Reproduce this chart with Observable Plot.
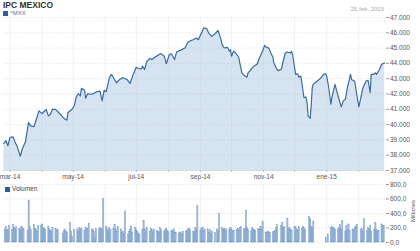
<!DOCTYPE html>
<html><head><meta charset="utf-8">
<script src="https://cdn.jsdelivr.net/npm/d3@7"></script>
<script src="https://cdn.jsdelivr.net/npm/@observablehq/plot@0.6"></script>
<style>
body{margin:0;background:#fff;}
#wrap{position:relative;width:420px;height:251px;overflow:hidden;font-family:"Liberation Sans",Arial,sans-serif;}
.abs{position:absolute;white-space:nowrap;}
#main,#vol{position:absolute;left:0;}
#main{top:0;} #vol{top:178px;}
</style></head>
<body><div id="wrap">
<div id="main"></div><div id="vol"></div>
<div class="abs" style="left:3px;top:0px;font-size:8.5px;font-weight:bold;color:#333;">IPC MEXICO</div>
<div class="abs" style="left:3px;top:10px;font-size:6px;color:#4a6fa0;"><span style="display:inline-block;width:5px;height:5px;background:#2d5f9a;margin-right:2px;vertical-align:-0.5px"></span>^MXX</div>
<div class="abs" style="right:36px;top:6px;font-size:6px;color:#aaa;">25 feb. 2015</div>
<div class="abs" style="left:5px;top:185px;font-size:6.5px;color:#444;"><span style="display:inline-block;width:5px;height:5px;background:#2d5f9a;margin-right:2px;vertical-align:-0.5px"></span>Volumen</div>
<div class="abs" style="left:413px;top:211px;font-size:6px;color:#555;transform:translate(-50%,-50%) rotate(-90deg);">Millones</div>
</div>
<script>
const lineDates = ["2014-02-23","2014-02-25","2014-02-27","2014-03-01","2014-03-04","2014-03-06","2014-03-08","2014-03-11","2014-03-13","2014-03-16","2014-03-19","2014-03-21","2014-03-24","2014-03-26","2014-03-29","2014-04-01","2014-04-02","2014-04-05","2014-04-07","2014-04-09","2014-04-11","2014-04-14","2014-04-17","2014-04-20","2014-04-23","2014-04-25","2014-04-26","2014-04-30","2014-05-02","2014-05-04","2014-05-06","2014-05-08","2014-05-09","2014-05-12","2014-05-13","2014-05-15","2014-05-19","2014-05-24","2014-05-27","2014-05-29","2014-05-31","2014-06-02","2014-06-05","2014-06-07","2014-06-10","2014-06-12","2014-06-15","2014-06-18","2014-06-22","2014-06-25","2014-06-28","2014-07-01","2014-07-03","2014-07-06","2014-07-07","2014-07-09","2014-07-11","2014-07-14","2014-07-16","2014-07-19","2014-07-22","2014-07-25","2014-07-28","2014-07-30","2014-08-02","2014-08-04","2014-08-07","2014-08-09","2014-08-12","2014-08-14","2014-08-17","2014-08-20","2014-08-23","2014-08-25","2014-08-28","2014-08-30","2014-09-02","2014-09-04","2014-09-07","2014-09-09","2014-09-12","2014-09-15","2014-09-18","2014-09-20","2014-09-22","2014-09-24","2014-09-27","2014-09-29","2014-09-30","2014-10-01","2014-10-03","2014-10-05","2014-10-08","2014-10-09","2014-10-11","2014-10-13","2014-10-16","2014-10-17","2014-10-19","2014-10-21","2014-10-23","2014-10-26","2014-10-28","2014-10-31","2014-11-02","2014-11-04","2014-11-06","2014-11-08","2014-11-10","2014-11-11","2014-11-13","2014-11-15","2014-11-18","2014-11-20","2014-11-22","2014-11-24","2014-11-27","2014-11-28","2014-11-29","2014-12-01","2014-12-02","2014-12-04","2014-12-05","2014-12-07","2014-12-08","2014-12-10","2014-12-12","2014-12-13","2014-12-14","2014-12-16","2014-12-17","2014-12-18","2014-12-19","2014-12-22","2014-12-26","2014-12-29","2014-12-31","2015-01-01","2015-01-03","2015-01-05","2015-01-06","2015-01-09","2015-01-12","2015-01-15","2015-01-17","2015-01-19","2015-01-21","2015-01-24","2015-01-25","2015-01-28","2015-01-30","2015-02-01","2015-02-03","2015-02-05","2015-02-08","2015-02-10","2015-02-12","2015-02-13","2015-02-15","2015-02-17","2015-02-18","2015-02-21","2015-02-23","2015-02-26"];
const lineValues = [38770,38950,38620,39160,39200,38840,38560,37930,38430,38900,40140,39920,39860,40250,40900,40720,40790,41000,40570,40680,41000,41000,40790,40570,40360,40290,40790,41000,41220,41800,42020,41870,42370,42240,41720,42020,41980,42150,42190,41550,42240,42150,43060,43280,42950,42730,42950,43060,42950,42690,43280,43750,43670,43640,43820,43600,44100,44320,44250,44400,44530,44640,44470,43980,44580,44620,44250,44750,44840,44900,45010,45400,45500,45550,45660,45550,45980,46320,46280,45980,45770,45930,46150,45770,45230,45010,45050,44790,44900,44470,44790,44680,44400,44030,43380,43230,43100,43380,43530,43710,43820,43980,44360,44790,45180,45050,45010,44680,44400,44030,43710,43530,43600,44140,44680,44750,44680,44790,44580,43710,43280,43320,43100,43170,42730,41760,41800,41430,40570,40400,41220,42410,42630,42800,43020,43280,43340,43170,42410,41330,41760,42630,41870,41160,41550,41650,42410,43280,42950,42840,41980,41160,41760,42410,42840,42890,42080,43280,43280,43380,43280,43600,43940,44030];

// Volume (millions), one value per weekday from Mon 2014-02-24 to Wed 2015-02-25; null = no bar
const volumeValues = [
180,210,160,175,230, 170,240,200,190,210, 190,170,220,200,180, null,160,580,210,170,
240,190,180,150,230, 230,250,190,200,170, 220,180,160,150,200, 190,160,170,null,null,
120,160,170,150,140, 270,150,80,null,170, 180,150,200,170,190, 160,200,180,190,260,
170,180,150,60,190, 180,200,190,170,600, 220,180,150,200,170, 190,240,170,150,210,
180,130,150,120,430, 110,150,180,220,140, 200,170,150,120,110, 170,300,180,140,200,
150,190,170,140,180, 160,150,140,200,170, 150,170,190,160,140, 160,150,180,140,130,
120,140,130,110,150, 150,160,180,190,170, 150,140,200,170,500, 160,190,200,150,170,
180,130,170,120,150, 130,null,180,150,390, 200,170,190,160,180, 180,200,170,150,160,
170,190,160,200,210, 180,190,440,200,170, 150,200,180,170,160, 190,170,210,180,280,
140,130,150,140,130, 140,150,160,200,240, null,230,270,200,210, 330,180,200,170,160,
220,200,180,160,210, 190,220,200,170,null, 350,320,210,200,290, null,null,null,null,null,
null,null,60,null,110, 200,210,190,200,180, 180,200,240,170,300, 150,230,170,250,160,
180,160,200,220,240, null,170,190,150,320, 160,200,180,230,150, 170,270,180,150,160,
250,220,230];

const xTickDates = ["2014-03-01","2014-05-01","2014-07-01","2014-09-01","2014-11-01","2015-01-01"];
const xTickLabels = ["mar-14","may-14","jul-14","sep-14","nov-14","ene-15"];
const yTicks = [37000,38000,39000,40000,41000,42000,43000,44000,45000,46000,47000];
const yTickLabels = ["37.000","38.000","39.000","40.000","41.000","42.000","43.000","44.000","45.000","46.000","47.000"];
const volTicks = [0,200,400,600,800];
const volTickLabels = ["0,0","200,0","400,0","600,0","800,0"];

const P = d => new Date(d + "T00:00:00Z");
const line = lineDates.map((d, i) => ({date: P(d), value: lineValues[i]}));
const weekdays = d3.utcDays(P("2014-02-24"), P("2015-02-26")).filter(d => d.getUTCDay() > 0 && d.getUTCDay() < 6);
const vol = weekdays.map((d, i) => ({date: d, vol: volumeValues[i]})).filter(d => d.vol != null);
const xDomain = [new Date("2014-02-22T17:00:00Z"), new Date("2015-02-26T19:00:00Z")];
const months = d3.utcMonths(P("2014-03-01"), P("2015-02-02"));
const tickDates = xTickDates.map(P);
const font = "'Liberation Sans', Arial, sans-serif";

const main = Plot.plot({
  width: 420, height: 182,
  marginLeft: 3, marginRight: 35, marginTop: 17, marginBottom: 12,
  x: {type: "utc", domain: xDomain},
  y: {domain: [37000, 47000]},
  style: {fontFamily: font, fontSize: "6.5px", color: "#555", background: "transparent", overflow: "visible"},
  marks: [
    Plot.areaY(line, {x: "date", y1: 37000, y2: "value", fill: "#d5e4f0"}),
    Plot.ruleY(yTicks, {stroke: "#b8b8b8", strokeOpacity: 0.45, strokeWidth: 0.6, strokeDasharray: "2,1.5"}),
    Plot.ruleX(months, {stroke: "#c8d0d8", strokeOpacity: 0.5, strokeWidth: 0.6}),
    Plot.lineY(line, {x: "date", y: "value", stroke: "#37679f", strokeWidth: 1.15}),
    Plot.ruleY([37000], {stroke: "#c8c8c8", strokeWidth: 0.6}),
    Plot.axisY({anchor: "right", ticks: yTicks, tickFormat: (d) => yTickLabels[yTicks.indexOf(d)], tickSize: 3, tickPadding: 1.5, stroke: "#999", label: null}),
    Plot.axisX({ticks: months, tickFormat: d => { const i = tickDates.findIndex(t => +t === +d); return i < 0 ? "" : xTickLabels[i]; }, tickSize: 2, tickPadding: 1.5, stroke: "#bbb", label: null, fill: "#555"})
  ]
});
document.getElementById("main").append(main);

const volPlot = Plot.plot({
  width: 420, height: 73,
  marginLeft: 3, marginRight: 35, marginTop: 6, marginBottom: 9,
  x: {type: "utc", domain: xDomain},
  y: {domain: [0, 800]},
  style: {fontFamily: font, fontSize: "6.5px", color: "#555", background: "transparent", overflow: "visible"},
  marks: [
    Plot.ruleY(volTicks, {stroke: "#b8b8b8", strokeOpacity: 0.45, strokeWidth: 0.6, strokeDasharray: "2,1.5"}),
    Plot.ruleX(months, {stroke: "#c8d0d8", strokeOpacity: 0.5, strokeWidth: 0.6}),
    Plot.rectY(vol, {x: "date", y: "vol", interval: "day", insetLeft: -0.1, insetRight: -0.1, fill: "#a2bddd", stroke: "#6a91c1", strokeWidth: 0.35}),
    Plot.axisY({anchor: "right", ticks: volTicks, tickFormat: d => volTickLabels[volTicks.indexOf(d)], tickSize: 3, tickPadding: 1.5, stroke: "#999", label: null}),
    Plot.axisX({ticks: [], label: null})
  ]
});
document.getElementById("vol").append(volPlot);
</script>
</body></html>
